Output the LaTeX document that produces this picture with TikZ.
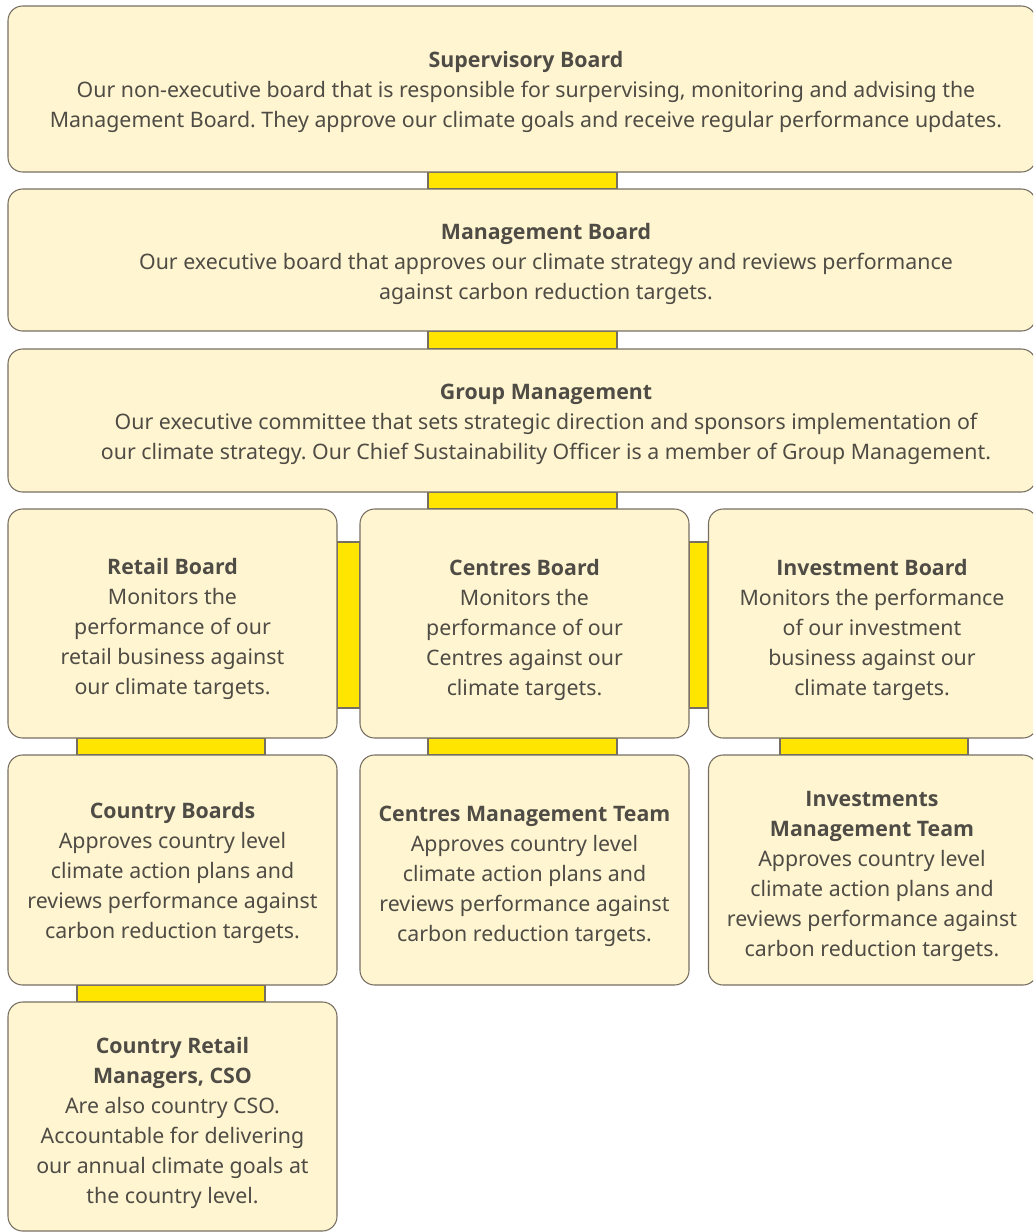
\documentclass[tikz,border=0pt]{standalone}
\usepackage{fontspec}
\setmainfont{Noto Sans}
\newfontfamily\headfont{Open Sans}
\usepackage{tikz}
\usetikzlibrary{backgrounds}
\frenchspacing

\definecolor{boxfill}{HTML}{FFF6D1}
\definecolor{boxline}{HTML}{776E62}
\definecolor{txtgray}{HTML}{4F4B45}
\definecolor{linkyellow}{HTML}{FFE500}

\newcommand{\head}[1]{{\headfont\bfseries #1}}

\begin{document}
\begin{tikzpicture}[x=0.75pt, y=-0.75pt,
	box/.style={draw=boxline, fill=boxfill, line width=0.8pt, rounded corners=11pt, inner sep=0pt},
	fullbox/.style={box, minimum width=771pt},
	colbox/.style={box, minimum width=246.75pt},
	txt/.style={align=center, text=txtgray, inner sep=0pt, font=\fontsize{16}{22.5}\selectfont},
	link/.style={draw=boxline, fill=linkyellow, line width=0.8pt}]
	\useasboundingbox (0,0) rectangle (1033,1232);
	\clip (0,0) rectangle (1033,1232);
	% boards
	\node[fullbox, minimum height=124.5pt] (sup) at (522,89) {};
	\node[fullbox, minimum height=106.5pt] (mgmt) at (522,260) {};
	\node[fullbox, minimum height=107.25pt] (grp) at (522,420.5) {};
	\node[colbox, minimum height=171.75pt] (retail) at (172.5,623.5) {};
	\node[colbox, minimum height=171.75pt] (centres) at (524.5,623.5) {};
	\node[colbox, minimum height=171.75pt] (invest) at (873,623.5) {};
	\node[colbox, minimum height=172.5pt] (cboards) at (172.5,870) {};
	\node[colbox, minimum height=172.5pt] (cmt) at (524.5,870) {};
	\node[colbox, minimum height=172.5pt] (imt) at (873,870) {};
	\node[colbox, minimum height=171.75pt] (crm) at (172.5,1116.5) {};
	% texts
	\node[txt] (sup-t) at (526,91.5) {\head{Supervisory Board}\\Our non-executive board that is responsible for surpervising, monitoring and advising the\\Management Board. They approve our climate goals and receive regular performance updates.};
	\node[txt] (mgmt-t) at (546,264) {\head{Management Board}\\Our executive board that approves our climate strategy and reviews performance\\against carbon reduction targets.};
	\node[txt] (grp-t) at (546,424) {\head{Group Management}\\Our executive committee that sets strategic direction and sponsors implementation of\\our climate strategy. Our Chief Sustainability Officer is a member of Group Management.};
	\node[txt] (retail-t) at (172.5,629) {\head{Retail Board}\\Monitors the\\performance of our\\retail business against\\our climate targets.};
	\node[txt] (centres-t) at (524.5,630) {\head{Centres Board}\\Monitors the\\performance of our\\Centres against our\\climate targets.};
	\node[txt] (invest-t) at (872,630) {\head{Investment Board}\\Monitors the performance\\of our investment\\business against our\\climate targets.};
	\node[txt] (cboards-t) at (172.5,873) {\head{Country Boards}\\Approves country level\\climate action plans and\\reviews performance against\\carbon reduction targets.};
	\node[txt] (cmt-t) at (524.5,876) {\head{Centres Management Team}\\Approves country level\\climate action plans and\\reviews performance against\\carbon reduction targets.};
	\node[txt] (imt-t) at (872,876) {\head{Investments}\\\head{Management Team}\\Approves country level\\climate action plans and\\reviews performance against\\carbon reduction targets.};
	\node[txt] (crm-t) at (172.5,1122.5) {\head{Country Retail}\\\head{Managers, CSO}\\Are also country CSO.\\Accountable for delivering\\our annual climate goals at\\the country level.};
	% yellow links behind the boxes
	\begin{pgfonlayer}{background}
		\draw[link] (sup.south -| 428,0) rectangle (mgmt.north -| 617,0);
		\draw[link] (mgmt.south -| 428,0) rectangle (grp.north -| 617,0);
		\draw[link] (grp.south -| 428,0) rectangle (centres.north -| 617,0);
		\draw[link] (retail.east |- 0,542) rectangle (centres.west |- 0,708);
		\draw[link] (centres.east |- 0,542) rectangle (invest.west |- 0,708);
		\draw[link] (retail.south -| 77,0) rectangle (cboards.north -| 265,0);
		\draw[link] (centres.south -| 428,0) rectangle (cmt.north -| 617,0);
		\draw[link] (invest.south -| 780,0) rectangle (imt.north -| 968,0);
		\draw[link] (cboards.south -| 77,0) rectangle (crm.north -| 265,0);
	\end{pgfonlayer}
\end{tikzpicture}
\end{document}
